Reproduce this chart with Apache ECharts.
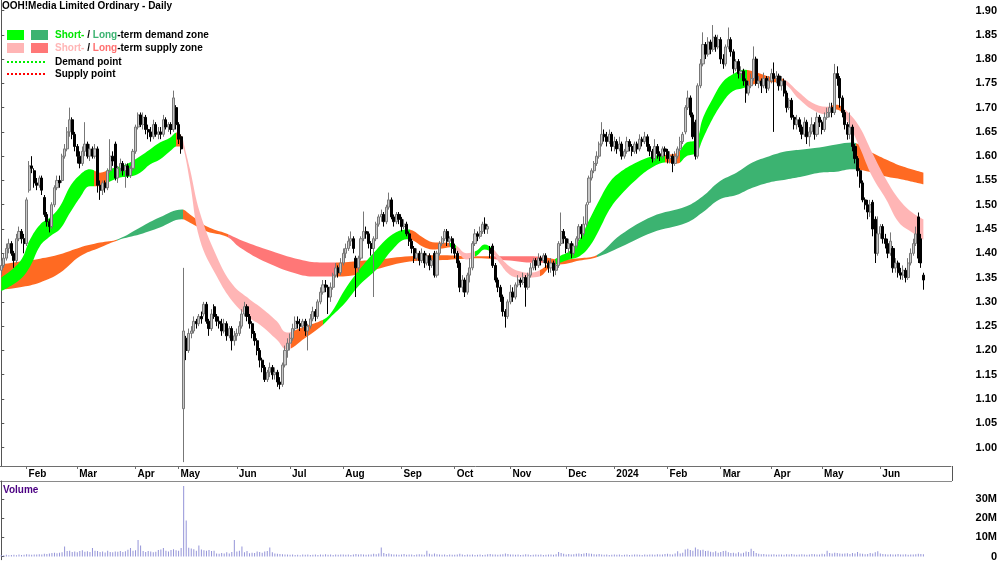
<!DOCTYPE html>
<html><head><meta charset="utf-8">
<script src="https://cdn.jsdelivr.net/npm/echarts@6/dist/echarts.min.js"></script>
<style>html,body{margin:0;padding:0;background:#fff}#c{width:1000px;height:562px}</style>
</head><body><div id="c"></div>
<script>
// ---------- DATA ----------
// month tick labels (first trading day of each month after the first)
const monthLabels = ['Feb','Mar','Apr','May','Jun','Jul','Aug','Sep','Oct','Nov','Dec','2024','Feb','Mar','Apr','May','Jun'];
const priceTicks = [1.00,1.05,1.10,1.15,1.20,1.25,1.30,1.35,1.40,1.45,1.50,1.55,1.60,1.65,1.70,1.75,1.80,1.85,1.90];
const volumeTicks = [0,10,20,30];

// daily bars: [open, close, low, high, volume (millions)]
const jan23 = [
[1.365,1.375,1.355,1.385,0.8],[1.375,1.39,1.37,1.40,0.6],[1.39,1.41,1.385,1.42,0.9],[1.41,1.42,1.40,1.43,0.7],
[1.42,1.40,1.395,1.425,0.8],[1.40,1.385,1.37,1.405,0.9],[1.385,1.43,1.38,1.44,0.7],[1.43,1.445,1.425,1.455,1.0],
[1.445,1.43,1.42,1.45,0.8],[1.43,1.42,1.40,1.44,0.9]];
const feb23 = [
[1.42,1.51,1.415,1.515,1.2],[1.53,1.58,1.525,1.59,1.0],[1.58,1.575,1.565,1.60,0.9],[1.57,1.545,1.535,1.575,1.1],
[1.545,1.54,1.53,1.555,1.0],[1.54,1.555,1.535,1.56,1.2],[1.555,1.53,1.52,1.56,1.1],[1.515,1.48,1.475,1.52,1.4],
[1.48,1.465,1.455,1.485,1.3],[1.465,1.455,1.443,1.47,1.6],[1.455,1.50,1.45,1.505,1.8],[1.50,1.535,1.495,1.54,2.0],
[1.535,1.55,1.53,1.56,1.7],[1.55,1.545,1.535,1.56,1.9],[1.55,1.60,1.545,1.605,2.2],[1.60,1.615,1.595,1.625,5.2],
[1.615,1.65,1.61,1.66,2.8],[1.65,1.675,1.64,1.70,3.0],[1.675,1.645,1.635,1.68,2.4],[1.645,1.62,1.61,1.65,2.6]];
const mar23 = [
[1.62,1.60,1.585,1.625,2.2],[1.60,1.585,1.575,1.61,2.8],[1.585,1.61,1.58,1.62,3.2],[1.61,1.625,1.60,1.67,2.5],
[1.625,1.60,1.595,1.63,2.7],[1.60,1.615,1.59,1.625,2.4],[1.615,1.60,1.595,1.62,4.4],[1.60,1.615,1.595,1.625,3.0],
[1.615,1.54,1.525,1.62,2.9],[1.54,1.53,1.51,1.55,2.3],[1.53,1.545,1.52,1.55,2.6],[1.545,1.535,1.525,1.55,2.1],
[1.535,1.57,1.53,1.575,3.0],[1.57,1.60,1.565,1.635,2.4],[1.60,1.59,1.58,1.61,2.2],[1.625,1.555,1.55,1.63,2.6],
[1.555,1.575,1.545,1.58,2.5],[1.575,1.585,1.565,1.595,2.8],[1.585,1.57,1.56,1.59,2.4],[1.57,1.58,1.535,1.585,2.7],
[1.58,1.56,1.555,1.585,3.5],[1.56,1.575,1.555,1.58,4.4],[1.575,1.61,1.57,1.615,3.0]];
const apr23 = [
[1.61,1.66,1.605,1.665,3.2],[1.66,1.685,1.655,1.69,8.6],[1.685,1.665,1.66,1.69,5.7],[1.665,1.68,1.655,1.69,2.9],
[1.68,1.655,1.645,1.685,2.4],[1.655,1.65,1.635,1.665,2.8],[1.65,1.64,1.63,1.66,2.6],[1.64,1.665,1.635,1.675,2.2],
[1.665,1.645,1.64,1.67,2.5],[1.645,1.65,1.635,1.66,3.4],[1.65,1.645,1.635,1.66,3.6],[1.645,1.675,1.64,1.685,4.4],
[1.675,1.66,1.655,1.68,3.0],[1.66,1.665,1.65,1.67,2.6],[1.665,1.655,1.645,1.67,3.4],[1.655,1.72,1.65,1.735,3.8],
[1.70,1.665,1.655,1.705,3.3]];
const may23 = [
[1.665,1.635,1.625,1.67,3.0],[1.64,1.615,1.605,1.645,4.4],[1.08,1.24,0.97,1.37,36.7],[1.225,1.20,1.18,1.23,18.7],
[1.20,1.235,1.195,1.245,4.6],[1.235,1.24,1.225,1.25,4.2],[1.24,1.26,1.235,1.27,3.8],[1.26,1.255,1.245,1.265,3.0],
[1.255,1.27,1.25,1.275,5.7],[1.27,1.265,1.255,1.28,3.6],[1.275,1.295,1.27,1.30,3.3],[1.295,1.26,1.255,1.30,3.0],
[1.26,1.245,1.23,1.265,3.4],[1.245,1.275,1.24,1.285,2.8],[1.29,1.27,1.265,1.295,3.0],[1.27,1.26,1.25,1.275,1.6],
[1.26,1.255,1.245,1.27,1.4],[1.255,1.24,1.23,1.265,1.8],[1.24,1.255,1.235,1.265,1.5],[1.255,1.23,1.22,1.26,2.2],
[1.23,1.245,1.225,1.25,1.6],[1.245,1.22,1.20,1.25,2.4],[1.22,1.23,1.21,1.24,8.6]];
const jun23 = [
[1.23,1.235,1.22,1.245,2.6],[1.235,1.25,1.23,1.26,3.0],[1.25,1.275,1.245,1.285,5.2],[1.275,1.29,1.27,1.30,2.2],
[1.29,1.27,1.26,1.295,2.8],[1.27,1.255,1.245,1.275,1.7],[1.255,1.235,1.225,1.26,2.0],[1.235,1.22,1.21,1.24,1.8],
[1.22,1.20,1.19,1.225,2.6],[1.20,1.18,1.165,1.205,2.4],[1.18,1.165,1.155,1.185,2.0],[1.165,1.14,1.135,1.17,2.6],
[1.14,1.155,1.135,1.16,2.8],[1.155,1.165,1.145,1.175,4.7],[1.165,1.15,1.14,1.17,2.2],[1.15,1.155,1.14,1.165,1.6],
[1.155,1.135,1.125,1.16,1.4],[1.135,1.13,1.12,1.145,1.3],[1.13,1.17,1.125,1.175,1.2],[1.17,1.20,1.165,1.21,1.1],
[1.20,1.215,1.185,1.225,1.0]];
const jul23 = [
[1.215,1.225,1.20,1.235,0.9],[1.225,1.245,1.22,1.255,1.0],[1.245,1.26,1.24,1.27,0.8],[1.26,1.255,1.245,1.27,0.9],
[1.255,1.25,1.24,1.265,0.7],[1.25,1.26,1.245,1.265,1.0],[1.26,1.24,1.23,1.265,0.9],[1.24,1.25,1.20,1.255,1.1],
[1.25,1.265,1.245,1.275,0.8],[1.265,1.28,1.26,1.29,0.9],[1.28,1.27,1.26,1.285,1.0],[1.27,1.30,1.265,1.305,0.8],
[1.30,1.32,1.295,1.33,1.0],[1.32,1.335,1.315,1.345,0.9],[1.335,1.33,1.32,1.345,1.2],[1.33,1.31,1.275,1.335,0.9],
[1.31,1.33,1.30,1.34,1.0],[1.33,1.355,1.325,1.36,0.8],[1.355,1.37,1.35,1.38,1.1],[1.37,1.36,1.35,1.375,0.9],
[1.36,1.38,1.355,1.39,1.0]];
const aug23 = [
[1.38,1.40,1.375,1.41,1.0],[1.40,1.41,1.39,1.42,0.9],[1.41,1.425,1.405,1.435,1.1],[1.425,1.43,1.415,1.445,0.8],
[1.43,1.41,1.40,1.435,1.0],[1.39,1.37,1.31,1.395,1.3],[1.37,1.39,1.36,1.395,1.1],[1.39,1.43,1.385,1.435,1.2],
[1.43,1.445,1.425,1.486,1.0],[1.445,1.44,1.43,1.455,0.9],[1.44,1.42,1.41,1.445,1.1],[1.42,1.41,1.395,1.425,1.0],
[1.41,1.43,1.31,1.435,1.4],[1.43,1.46,1.425,1.465,1.2],[1.46,1.475,1.455,1.48,1.6],[1.475,1.48,1.465,1.49,4.7],
[1.48,1.465,1.455,1.485,1.8],[1.465,1.495,1.46,1.50,1.3],[1.495,1.51,1.49,1.525,1.5],[1.51,1.475,1.47,1.515,1.2],
[1.475,1.465,1.455,1.48,1.0],[1.465,1.48,1.46,1.485,1.1],[1.48,1.47,1.46,1.485,0.9]];
const sep23 = [
[1.47,1.455,1.445,1.475,1.0],[1.455,1.46,1.45,1.47,1.3],[1.46,1.44,1.435,1.465,0.9],[1.44,1.425,1.415,1.445,1.1],
[1.425,1.41,1.40,1.43,1.0],[1.41,1.39,1.38,1.415,0.8],[1.39,1.40,1.385,1.41,1.0],[1.40,1.385,1.375,1.405,1.2],
[1.385,1.40,1.38,1.41,1.1],[1.40,1.38,1.37,1.405,0.9],[1.38,1.395,1.375,1.40,3.0],[1.395,1.375,1.365,1.40,1.4],
[1.375,1.385,1.37,1.39,1.0],[1.40,1.355,1.35,1.405,1.6],[1.355,1.40,1.35,1.405,1.2],[1.40,1.42,1.395,1.425,1.0],
[1.42,1.43,1.415,1.435,0.9],[1.43,1.445,1.425,1.45,1.1],[1.445,1.425,1.415,1.45,0.8],[1.425,1.43,1.415,1.435,1.0],
[1.43,1.41,1.40,1.435,0.9]];
const oct23 = [
[1.41,1.40,1.39,1.42,0.9],[1.40,1.38,1.37,1.405,1.0],[1.38,1.33,1.32,1.385,1.4],[1.33,1.345,1.32,1.355,1.1],
[1.345,1.32,1.31,1.35,0.8],[1.32,1.355,1.315,1.36,1.0],[1.355,1.37,1.34,1.39,0.9],[1.37,1.42,1.365,1.425,1.1],
[1.42,1.44,1.415,1.45,0.8],[1.44,1.435,1.425,1.445,0.9],[1.435,1.445,1.43,1.455,1.0],[1.445,1.46,1.44,1.465,0.8],
[1.46,1.45,1.44,1.474,0.9],[1.45,1.455,1.44,1.46,1.2],[1.41,1.40,1.39,1.415,1.3],[1.415,1.375,1.37,1.42,1.0],
[1.375,1.345,1.34,1.38,1.1],[1.345,1.33,1.32,1.35,0.9],[1.33,1.31,1.30,1.335,1.0],[1.31,1.28,1.27,1.315,1.2],
[1.28,1.27,1.247,1.285,1.5],[1.27,1.30,1.265,1.305,1.3]];
const nov23 = [
[1.30,1.32,1.295,1.335,1.1],[1.32,1.31,1.30,1.33,1.0],[1.31,1.335,1.305,1.34,0.9],[1.335,1.345,1.33,1.355,1.0],
[1.345,1.34,1.33,1.35,0.8],[1.34,1.35,1.335,1.36,0.9],[1.35,1.33,1.29,1.355,1.2],[1.33,1.355,1.325,1.36,1.0],
[1.355,1.37,1.35,1.38,0.8],[1.37,1.385,1.365,1.39,0.9],[1.385,1.375,1.365,1.39,1.1],[1.375,1.39,1.37,1.40,0.9],
[1.39,1.385,1.375,1.395,1.0],[1.385,1.395,1.38,1.40,0.8],[1.395,1.38,1.37,1.40,0.9],[1.38,1.37,1.36,1.385,1.0],
[1.37,1.38,1.36,1.39,1.1],[1.38,1.365,1.352,1.385,0.9],[1.365,1.375,1.355,1.385,1.2],[1.375,1.42,1.37,1.425,2.4],
[1.42,1.445,1.415,1.484,1.8],[1.445,1.43,1.42,1.45,1.4]];
const dec23 = [
[1.43,1.41,1.40,1.435,1.1],[1.41,1.42,1.40,1.43,1.3],[1.42,1.40,1.39,1.425,1.0],[1.40,1.415,1.395,1.42,1.2],
[1.415,1.43,1.41,1.435,1.4],[1.43,1.455,1.425,1.46,1.6],[1.455,1.44,1.43,1.46,1.3],[1.44,1.46,1.435,1.476,1.5],
[1.46,1.50,1.455,1.505,1.8],[1.505,1.555,1.50,1.56,1.6],[1.555,1.57,1.55,1.575,1.4],[1.57,1.585,1.565,1.59,1.2],
[1.585,1.60,1.58,1.61,1.1],[1.60,1.625,1.595,1.63,1.3],[1.625,1.645,1.62,1.67,1.0],[1.645,1.64,1.63,1.655,0.9],
[1.64,1.63,1.62,1.65,1.0],[1.63,1.645,1.625,1.655,0.8],[1.645,1.62,1.61,1.65,0.9]];
const jan24 = [
[1.62,1.63,1.61,1.64,1.0],[1.63,1.615,1.605,1.635,0.9],[1.615,1.625,1.61,1.64,1.1],[1.625,1.60,1.593,1.63,0.8],
[1.60,1.61,1.595,1.615,0.9],[1.61,1.63,1.605,1.64,1.0],[1.63,1.62,1.61,1.635,0.8],[1.62,1.61,1.60,1.625,0.9],
[1.61,1.625,1.605,1.63,1.0],[1.625,1.615,1.605,1.63,1.1],[1.615,1.635,1.61,1.645,0.9],[1.635,1.63,1.62,1.64,0.8],
[1.63,1.64,1.625,1.65,1.0],[1.64,1.62,1.61,1.645,0.9],[1.62,1.61,1.60,1.625,1.1],[1.61,1.595,1.587,1.615,1.0],
[1.595,1.62,1.59,1.635,0.9],[1.62,1.605,1.595,1.625,1.2],[1.605,1.60,1.59,1.61,1.0],[1.60,1.615,1.595,1.62,1.1],
[1.615,1.61,1.60,1.62,1.3]];
const feb24 = [
[1.61,1.595,1.585,1.615,1.4],[1.595,1.60,1.585,1.61,1.2],[1.60,1.585,1.567,1.605,1.1],[1.585,1.60,1.58,1.61,1.6],
[1.60,1.615,1.595,1.62,2.7],[1.615,1.63,1.61,1.64,1.5],[1.63,1.645,1.625,1.65,1.9],[1.65,1.70,1.645,1.705,3.6],
[1.70,1.72,1.695,1.735,4.0],[1.72,1.685,1.68,1.725,3.4],[1.685,1.64,1.635,1.69,3.0],[1.67,1.60,1.593,1.675,4.7],
[1.60,1.745,1.595,1.75,3.8],[1.745,1.79,1.74,1.80,3.2],[1.79,1.83,1.785,1.855,3.5],[1.83,1.81,1.80,1.835,2.8],
[1.81,1.835,1.805,1.845,3.0],[1.835,1.82,1.81,1.84,2.5],[1.82,1.845,1.815,1.87,2.2],[1.845,1.825,1.815,1.85,2.7],
[1.825,1.84,1.82,1.85,2.0]];
const mar24 = [
[1.84,1.80,1.79,1.845,2.4],[1.80,1.79,1.78,1.81,2.8],[1.79,1.825,1.785,1.83,3.0],[1.825,1.84,1.82,1.865,2.2],
[1.84,1.815,1.805,1.845,1.8],[1.815,1.78,1.77,1.82,2.0],[1.78,1.795,1.775,1.80,1.6],[1.795,1.77,1.76,1.80,2.2],
[1.77,1.775,1.76,1.785,1.5],[1.775,1.755,1.745,1.78,2.0],[1.755,1.73,1.71,1.76,2.6],[1.73,1.745,1.725,1.755,2.4],
[1.745,1.76,1.74,1.77,4.0],[1.76,1.80,1.755,1.826,2.8],[1.80,1.75,1.745,1.805,1.8],[1.75,1.755,1.74,1.765,1.4],
[1.755,1.745,1.73,1.76,1.2],[1.745,1.76,1.74,1.772,1.3],[1.76,1.74,1.73,1.765,1.0],[1.74,1.755,1.735,1.765,1.1]];
const apr24 = [
[1.755,1.77,1.75,1.78,1.0],[1.77,1.76,1.65,1.793,1.2],[1.76,1.765,1.75,1.775,0.9],[1.765,1.745,1.735,1.77,1.1],
[1.745,1.755,1.735,1.765,1.0],[1.755,1.73,1.723,1.76,0.9],[1.73,1.70,1.69,1.735,1.2],[1.70,1.715,1.695,1.72,1.0],
[1.715,1.68,1.675,1.72,1.3],[1.68,1.665,1.655,1.685,1.1],[1.665,1.675,1.655,1.685,0.9],[1.675,1.66,1.65,1.68,1.0],
[1.66,1.645,1.635,1.665,1.2],[1.645,1.67,1.64,1.68,1.1],[1.67,1.64,1.625,1.675,0.9],[1.64,1.65,1.62,1.66,1.0],
[1.65,1.665,1.645,1.68,1.3],[1.665,1.645,1.634,1.67,1.2],[1.645,1.68,1.64,1.69,1.0],[1.68,1.67,1.66,1.685,1.1]];
const may24 = [
[1.67,1.655,1.645,1.675,1.4],[1.655,1.68,1.65,1.69,1.2],[1.68,1.69,1.675,1.70,3.0],[1.69,1.70,1.68,1.71,1.8],
[1.70,1.69,1.68,1.71,1.6],[1.69,1.77,1.685,1.79,2.0],[1.77,1.76,1.745,1.785,1.8],[1.76,1.72,1.70,1.765,1.5],
[1.72,1.69,1.68,1.725,1.4],[1.69,1.665,1.655,1.695,1.6],[1.665,1.645,1.634,1.67,1.7],[1.645,1.66,1.635,1.69,1.3],
[1.66,1.62,1.61,1.665,1.8],[1.62,1.595,1.585,1.625,1.5],[1.595,1.57,1.558,1.60,2.4],[1.57,1.545,1.535,1.575,1.6],
[1.545,1.51,1.505,1.55,1.4],[1.51,1.50,1.49,1.515,1.2],[1.50,1.485,1.47,1.51,1.3],[1.485,1.50,1.475,1.51,1.8],
[1.505,1.45,1.435,1.51,1.5],[1.47,1.40,1.38,1.476,2.2],[1.40,1.44,1.395,1.476,2.7]];
const jun24 = [
[1.44,1.455,1.43,1.46,1.6],[1.455,1.43,1.42,1.46,1.3],[1.43,1.42,1.41,1.44,1.2],[1.42,1.40,1.39,1.43,1.0],
[1.40,1.425,1.395,1.443,1.2],[1.41,1.37,1.36,1.415,1.1],[1.37,1.38,1.36,1.39,1.0],[1.38,1.36,1.35,1.385,1.3],
[1.36,1.355,1.346,1.37,1.1],[1.355,1.365,1.345,1.375,1.0],[1.365,1.35,1.34,1.37,1.2],[1.35,1.38,1.345,1.39,0.9],
[1.38,1.40,1.375,1.41,1.1],[1.40,1.42,1.395,1.43,1.0],[1.42,1.44,1.415,1.455,1.2],[1.475,1.39,1.38,1.484,1.4],
[1.43,1.38,1.37,1.44,1.3],[1.355,1.345,1.325,1.36,1.2]];

// short-term zone edges (bar index, upper, lower)
const shortX   = [0,7.4,11.4,15.3,19.3,23.2,27.2,31.1,35,39,42.9,46.9,50.8,54.8,58.7,62.6,66.6,69.3,71.3,72.2,74.5,78.4,85.1,91.4,98.1,102.1,108.8,112.7,119.8,125.7,129.7,135.6,141.5,148.2,154.5,160,162.4,166.3,170.3,174.2,178.2,179.8,183.7,187.6,190.8,193.9,196.7,200.7,204.6,208.5,212.5,216.4,220.4,224.3,228.3,232.2,236.1,240.1,244,250.7,257,262.6,266.9,270.5,274.4,276.8,280.7,284.7,288.6,293.3,298.5,303.2,308.3,315,320.1,325.7,329.6,333.5,338.7,343.8,349.3,354.4,359.6,364];
const shortTop = [1.350,1.383,1.429,1.459,1.474,1.497,1.538,1.562,1.573,1.566,1.573,1.579,1.587,1.600,1.614,1.628,1.638,1.649,1.640,1.622,1.573,1.484,1.393,1.335,1.305,1.290,1.260,1.237,1.250,1.260,1.274,1.325,1.367,1.408,1.439,1.449,1.447,1.433,1.423,1.422,1.420,1.415,1.400,1.405,1.418,1.410,1.394,1.373,1.363,1.360,1.365,1.380,1.394,1.404,1.429,1.470,1.510,1.546,1.566,1.587,1.600,1.603,1.607,1.628,1.634,1.676,1.717,1.752,1.768,1.778,1.772,1.764,1.760,1.731,1.710,1.702,1.706,1.694,1.661,1.607,1.552,1.511,1.484,1.470];
const shortBot = [1.322,1.346,1.373,1.415,1.435,1.450,1.484,1.515,1.538,1.538,1.548,1.556,1.558,1.566,1.583,1.593,1.610,1.620,1.620,1.610,1.546,1.428,1.352,1.300,1.266,1.253,1.222,1.202,1.225,1.247,1.267,1.297,1.335,1.367,1.408,1.429,1.427,1.414,1.408,1.410,1.413,1.405,1.387,1.395,1.408,1.400,1.380,1.356,1.350,1.350,1.352,1.370,1.380,1.387,1.394,1.414,1.449,1.490,1.517,1.552,1.577,1.587,1.585,1.600,1.607,1.634,1.676,1.710,1.733,1.741,1.750,1.752,1.750,1.717,1.696,1.686,1.696,1.676,1.620,1.558,1.511,1.463,1.443,1.428];
// zone type per index range: sd short demand, ss short supply, n neutral
const shortZones = [[0,36.5,'sd'],[36.5,42,'n'],[42,69,'sd'],[69,71.8,'n'],[71.8,114.5,'ss'],[114.5,127,'n'],[127,161.5,'sd'],[161.5,177,'n'],[177,179.5,'sd'],[179.5,187,'ss'],[187,194,'sd'],[194,212.5,'ss'],[212.5,218.5,'n'],[218.5,262,'sd'],[262,268,'n'],[268,294.5,'sd'],[294.5,309,'n'],[309,328,'ss'],[328,332,'n'],[332,380,'ss']];

// long-term zone edges
const longX   = [0,7.4,15.3,23.2,31.1,39,46.1,54.8,62.6,71.3,74.5,81.2,89.1,94.2,104.8,117.9,125.7,132.4,141.5,148.2,161.2,174.2,187.6,200.7,207.4,214.5,220.4,228.3,235,244.5,257,270.5,276.8,283.5,290.2,296.5,303.2,309.9,316.2,322.9,329.6,335.9,342.6,349.3,355.6,364];
const longTop = [1.377,1.383,1.389,1.398,1.412,1.422,1.429,1.453,1.474,1.490,1.480,1.455,1.440,1.428,1.408,1.387,1.381,1.381,1.384,1.387,1.394,1.396,1.394,1.394,1.394,1.392,1.387,1.390,1.396,1.438,1.476,1.497,1.517,1.548,1.566,1.587,1.600,1.610,1.614,1.618,1.624,1.628,1.610,1.593,1.579,1.566];
const longBot = [1.325,1.330,1.340,1.360,1.394,1.412,1.427,1.439,1.453,1.470,1.463,1.445,1.434,1.412,1.381,1.356,1.352,1.352,1.357,1.367,1.383,1.386,1.390,1.385,1.381,1.380,1.377,1.385,1.392,1.413,1.443,1.463,1.484,1.511,1.520,1.535,1.546,1.552,1.558,1.566,1.568,1.573,1.568,1.558,1.552,1.542];
const longZones = [[0,45.5,'n'],[45.5,71.8,'ld'],[71.8,89.5,'n'],[89.5,132,'ls'],[132,193.5,'n'],[193.5,214.5,'ls'],[214.5,235,'n'],[235,337.5,'ld'],[337.5,380,'n']];

// ---------- BUILD ----------
const months = [jan23,feb23,mar23,apr23,may23,jun23,jul23,aug23,sep23,oct23,nov23,dec23,jan24,feb24,mar24,apr24,may24,jun24];
const bars = [].concat(...months);
const monthStart = [];
let acc = 0;
months.forEach((m,k)=>{ if(k>0) monthStart.push(acc); acc += m.length; });
const labelOf = {}; monthStart.forEach((v,k)=>{ labelOf[v] = monthLabels[k]; });

const zoneColor = {sd:'#00FF00', ld:'#3CB371', ss:'#FFB5B5', ls:'#FF7777', n:'#FF6A22'};
const FONT = 'Liberation Sans';
const XMIN = -0.5, XMAX = 374.9;

// bands live on a hidden time-type axis (same pixel mapping) so that the stack is applied on y
function bandSeries(name, xs, top, bot){
  return [
    {type:'line', name:name+'b', xAxisIndex:2, stack:name, data: xs.map((x,k)=>[x,bot[k]]), symbol:'none', smooth:0.4,
     lineStyle:{width:0,opacity:0}, silent:true, z:1},
    {type:'line', name:name+'d', xAxisIndex:2, stack:name, data: xs.map((x,k)=>[x,+(top[k]-bot[k]).toFixed(4)]), symbol:'none', smooth:0.4,
     lineStyle:{width:0,opacity:0}, areaStyle:{opacity:1}, silent:true, z:1}
  ];
}

const series = [
  ...bandSeries('long', longX, longTop, longBot),
  ...bandSeries('short', shortX, shortTop, shortBot),
  {type:'candlestick', data: bars.map((b,i)=>[i,b[0],b[1],b[2],b[3]]), barWidth:2.6,
   itemStyle:{color:'#c8c8c8', color0:'#000000', borderColor:'#777777', borderColor0:'#000000', borderWidth:1}, z:3, silent:true},
  {type:'bar', xAxisIndex:1, yAxisIndex:1, data: bars.map((b,i)=>[i,b[4]]), barWidth:1,
   itemStyle:{color:'#9494d8'}, silent:true}
];

const chart = echarts.init(document.getElementById('c'), null, {renderer:'canvas'});
chart.setOption({
  animation:false,
  backgroundColor:'#ffffff',
  textStyle:{fontFamily:FONT},
  grid:[{left:0,right:48,top:0,height:466},{left:0,right:48,top:481,height:81}],
  xAxis:[
    {type:'value', gridIndex:0, min:XMIN, max:XMAX, splitLine:{show:false},
     axisLine:{show:true, onZero:false, lineStyle:{color:'#6e6e6e', width:1}},
     axisTick:{show:true, customValues:monthStart, length:3, lineStyle:{color:'#6e6e6e'}},
     axisLabel:{customValues:monthStart, formatter:v=>labelOf[v]||'', align:'left', margin:3, padding:[0,0,0,2],
       color:'#000', fontWeight:'bold', fontSize:10, fontFamily:FONT}},
    {type:'value', gridIndex:1, min:XMIN, max:XMAX, show:false},
    {type:'time', gridIndex:0, min:XMIN, max:XMAX, show:false}
  ],
  yAxis:[
    {type:'value', gridIndex:0, position:'right', min:0.962, max:1.9216, splitLine:{show:false}, scale:true,
     axisLine:{show:true, lineStyle:{color:'#555', width:1}},
     axisTick:{show:true, customValues:priceTicks, length:3, lineStyle:{color:'#555'}},
     axisLabel:{customValues:priceTicks, formatter:v=>v.toFixed(2), align:'right', margin:46,
       color:'#000', fontWeight:'bold', fontSize:11, fontFamily:FONT}},
    {type:'value', gridIndex:1, position:'right', min:-1.67, max:39.24, splitLine:{show:false},
     axisLine:{show:true, lineStyle:{color:'#555', width:1}},
     axisTick:{show:true, customValues:volumeTicks, length:3, lineStyle:{color:'#555'}},
     axisLabel:{customValues:volumeTicks, formatter:v=>v===0?'0':v+'M', align:'right', margin:46,
       color:'#000', fontWeight:'bold', fontSize:11, fontFamily:FONT}}
  ],
  visualMap:[
    {type:'piecewise', show:false, seriesIndex:1, dimension:0,
     pieces: longZones.map(z=>({gte:z[0], lt:z[1], color:zoneColor[z[2]]}))},
    {type:'piecewise', show:false, seriesIndex:3, dimension:0,
     pieces: shortZones.map(z=>({gte:z[0], lt:z[1], color:zoneColor[z[2]]}))}
  ],
  series: series,
  graphic:[
    {type:'text', left:2, top:1, style:{text:'OOH!Media Limited Ordinary - Daily', font:'bold 10px "Liberation Sans"', fill:'#000'}},
    {type:'rect', shape:{x:7,y:30,width:17,height:10}, style:{fill:zoneColor.sd}},
    {type:'rect', shape:{x:31,y:30,width:17,height:10}, style:{fill:zoneColor.ld}},
    {type:'rect', shape:{x:7,y:43,width:17,height:10}, style:{fill:zoneColor.ss}},
    {type:'rect', shape:{x:31,y:43,width:17,height:10}, style:{fill:zoneColor.ls}},
    {type:'line', shape:{x1:7,y1:62,x2:45,y2:62}, style:{stroke:'#00EE00', lineWidth:2, lineDash:[2,2]}},
    {type:'line', shape:{x1:7,y1:74,x2:45,y2:74}, style:{stroke:'#FF0000', lineWidth:2, lineDash:[2,2]}},
    {type:'text', x:55, y:35, style:{text:'{a|Short-} / {b|Long}-term demand zone', font:'bold 10px "Liberation Sans"', fill:'#000', verticalAlign:'middle',
      rich:{a:{fill:'#00E600', font:'bold 10px "Liberation Sans"'}, b:{fill:'#3CB371', font:'bold 10px "Liberation Sans"'}}}},
    {type:'text', x:55, y:48, style:{text:'{a|Short-} / {b|Long}-term supply zone', font:'bold 10px "Liberation Sans"', fill:'#000', verticalAlign:'middle',
      rich:{a:{fill:'#FFB5B5', font:'bold 10px "Liberation Sans"'}, b:{fill:'#FF7070', font:'bold 10px "Liberation Sans"'}}}},
    {type:'text', x:55, y:62, style:{text:'Demand point', font:'bold 10px "Liberation Sans"', fill:'#000', verticalAlign:'middle'}},
    {type:'text', x:55, y:74, style:{text:'Supply point', font:'bold 10px "Liberation Sans"', fill:'#000', verticalAlign:'middle'}},
    {type:'text', x:3, y:490, style:{text:'Volume', font:'bold 10px "Liberation Sans"', fill:'#4B0082', verticalAlign:'middle'}},
    {type:'line', shape:{x1:0,y1:481.5,x2:952,y2:481.5}, style:{stroke:'#8a8a8a', lineWidth:1}},
    {type:'line', shape:{x1:952.5,y1:466,x2:952.5,y2:481}, style:{stroke:'#555', lineWidth:1}}
  ]
});
</script>
</body></html>
